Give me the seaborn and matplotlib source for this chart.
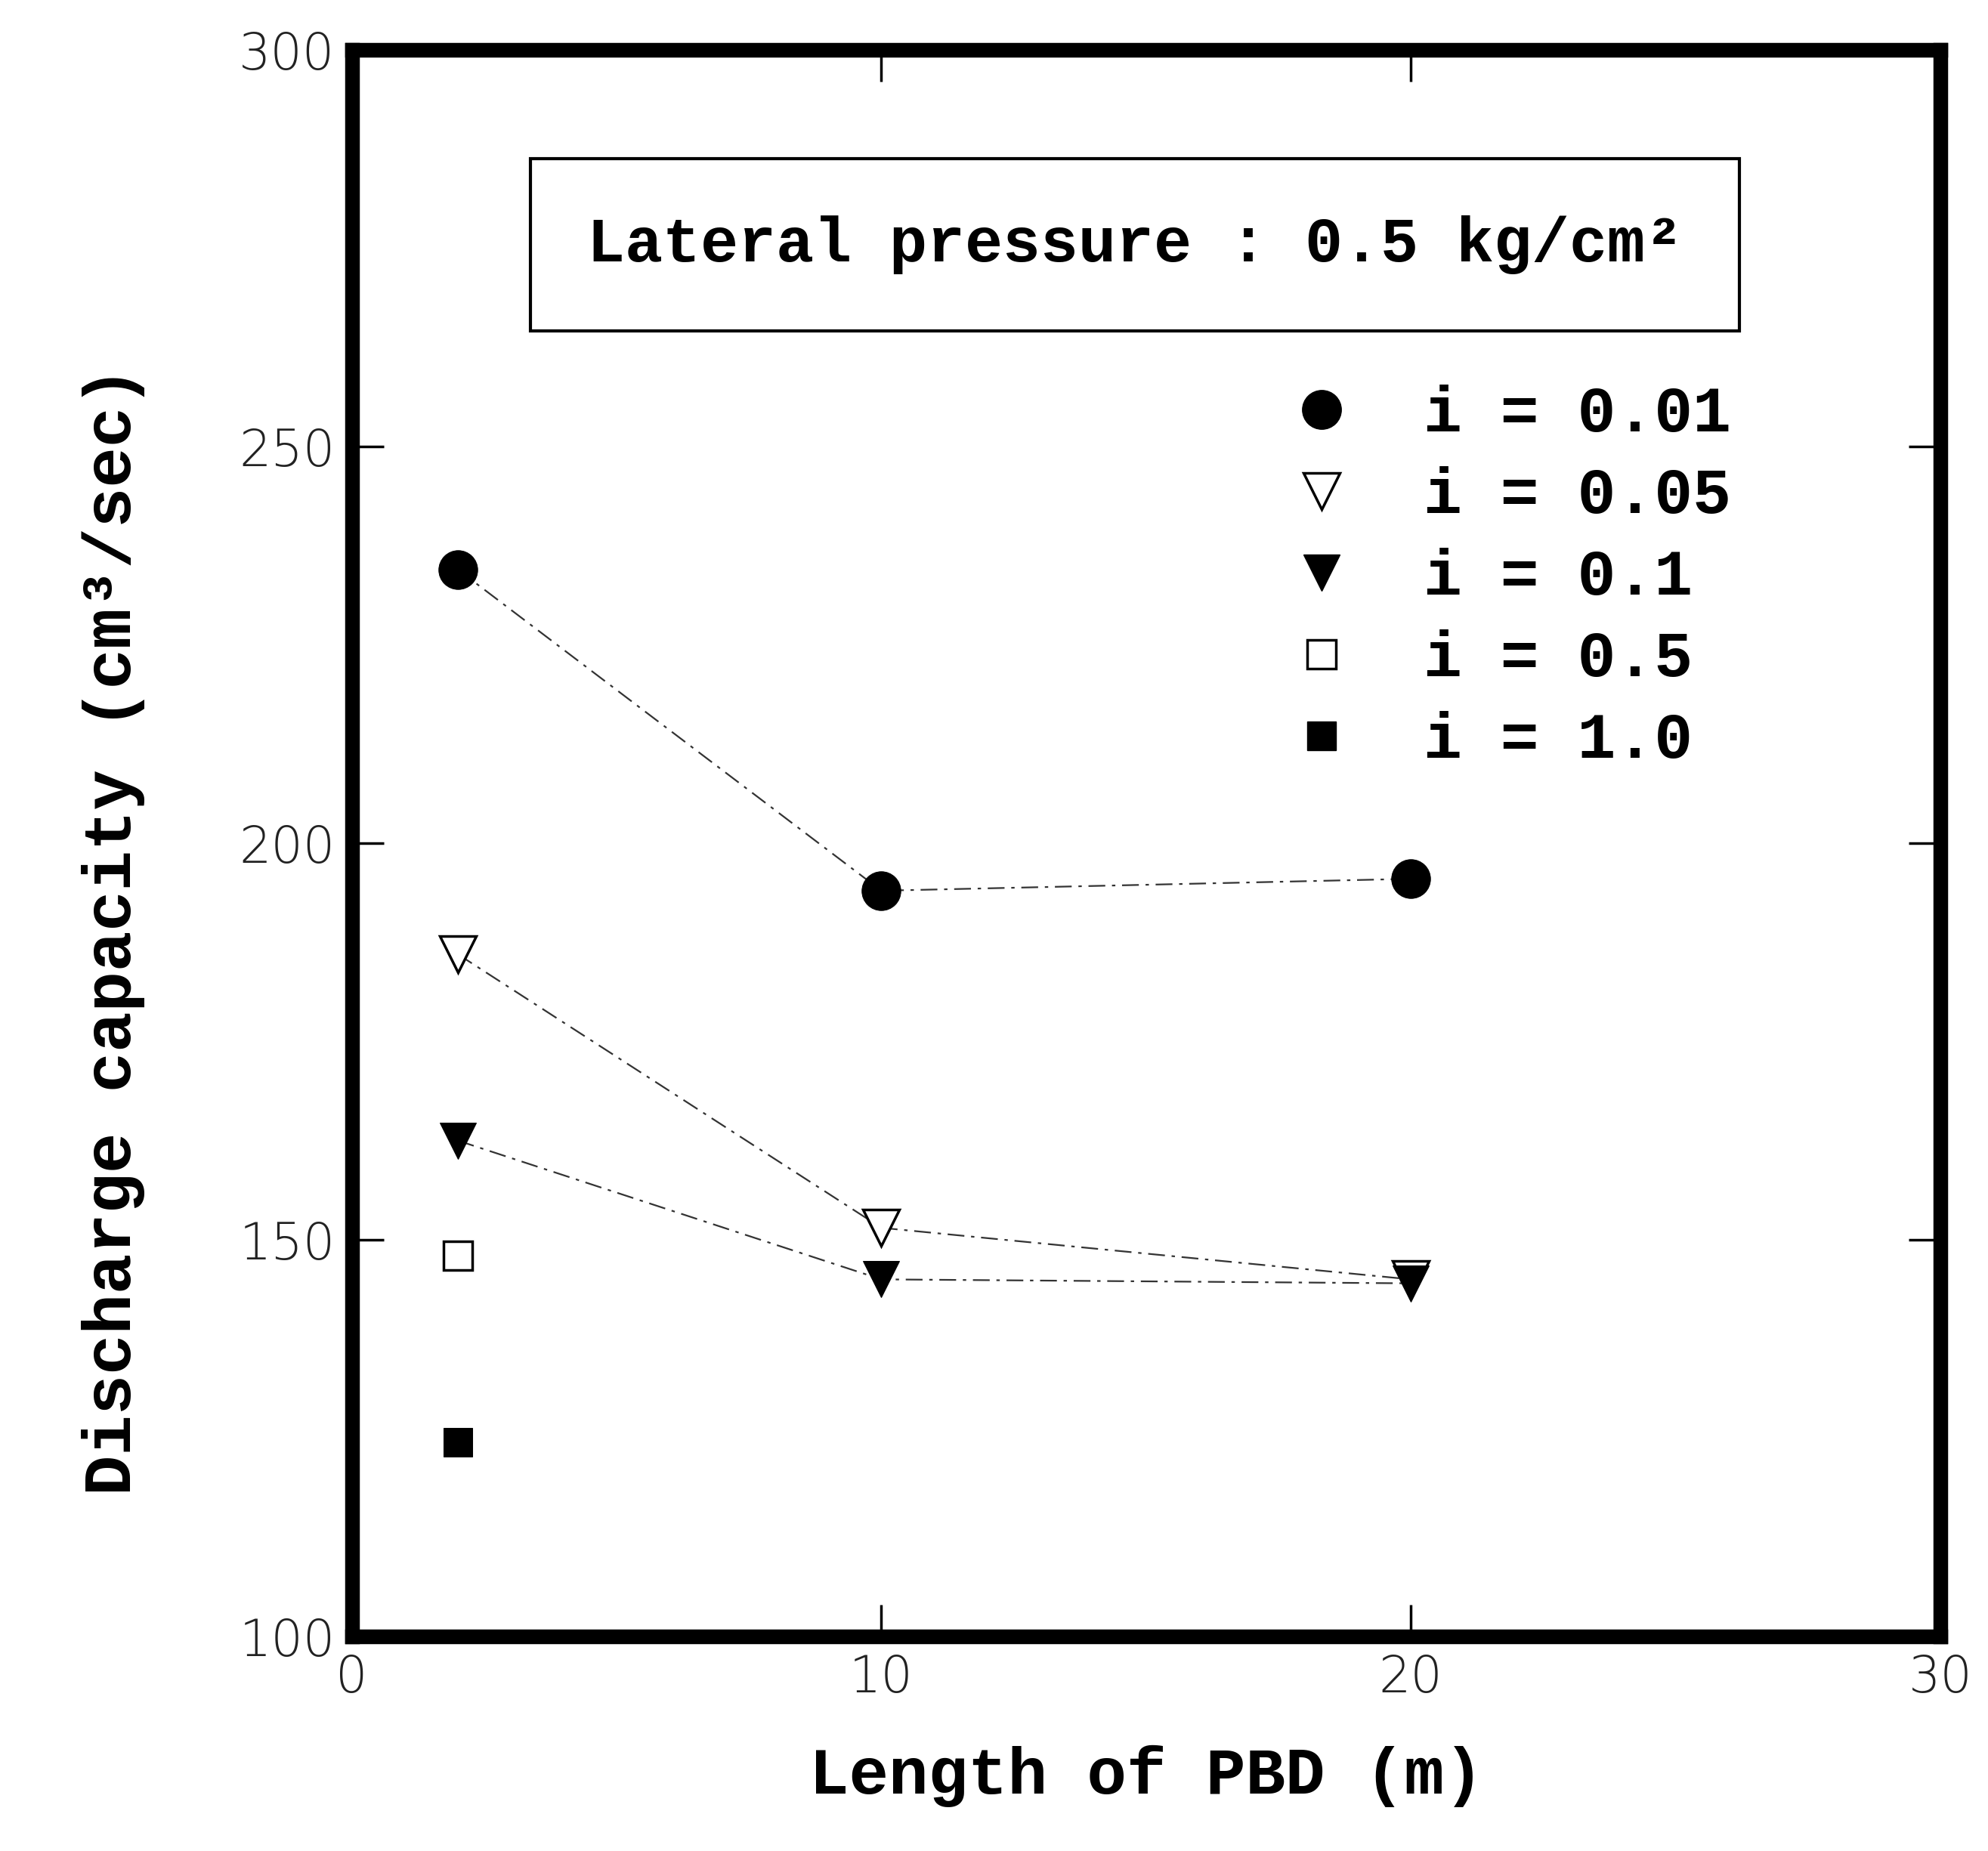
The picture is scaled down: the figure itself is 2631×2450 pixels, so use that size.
import matplotlib
matplotlib.use("Agg")
import matplotlib.pyplot as plt
from matplotlib.lines import Line2D
import seaborn as sns
import pandas as pd

# ---- data ----
length_001 = [2, 10, 20]
q_001 = [234.5, 194.0, 195.5]
length_005 = [2, 10, 20]
q_005 = [186.0, 151.5, 145.0]
length_01 = [2, 10, 20]
q_01 = [162.5, 145.0, 144.5]
length_05 = [2]
q_05 = [148.0]
length_10 = [2]
q_10 = [124.5]

labels = ["i = 0.01", "i = 0.05", "i = 0.1", "i = 0.5", "i = 1.0"]
x_ticks = [0, 10, 20, 30]
y_ticks = [100, 150, 200, 250, 300]
box_text = "Lateral pressure : 0.5 kg/cm\u00b2"
x_label = "Length of PBD (m)"
y_label = "Discharge capacity (cm\u00b3/sec)"

sns.set_theme(style="white")
plt.rcParams["font.family"] = ["Liberation Mono", "DejaVu Sans"]

fig = plt.figure(figsize=(26.31, 24.5), dpi=100)
ax = fig.add_axes([0.177, 0.116, 0.799, 0.857])

series = [
    (length_001, q_001, dict(marker="o", markerfacecolor="black", markersize=37)),
    (length_005, q_005, dict(marker="v", markerfacecolor="white", markersize=34, markeredgewidth=2.5)),
    (length_01, q_01, dict(marker="v", markerfacecolor="black", markersize=34)),
    (length_05, q_05, dict(marker="s", markerfacecolor="white", markersize=27, markeredgewidth=2.5)),
    (length_10, q_10, dict(marker="s", markerfacecolor="black", markersize=27)),
]

dash = (0, (10, 4, 2, 4))
for xs, ys, mk in series:
    df = pd.DataFrame({"x": xs, "y": ys})
    sns.lineplot(data=df, x="x", y="y", ax=ax, color="#333333", linewidth=1.6,
                 linestyle=dash, markeredgecolor="black", **mk)

ax.set_xlim(0, 30)
ax.set_ylim(100, 300)
ax.set_xticks(x_ticks)
ax.set_yticks(y_ticks)
ax.set_xticklabels([str(t) for t in x_ticks])
ax.set_yticklabels([str(t) for t in y_ticks])

ax.tick_params(direction="in", length=30, width=2.5, top=True, right=True,
               bottom=True, left=True, pad=16, colors="black")
for lab in ax.get_xticklabels() + ax.get_yticklabels():
    lab.set_fontfamily(["DejaVu Sans"])
    lab.set_fontweight("light")
    lab.set_fontsize(48)
    lab.set_color("#222222")

for sp in ax.spines.values():
    sp.set_linewidth(14)
    sp.set_color("black")

ax.set_xlabel(x_label, fontsize=63, fontweight="bold", labelpad=40, color="black")
ax.set_ylabel(y_label, fontsize=64, fontweight="bold", labelpad=60, color="black")
ax.yaxis.set_label_coords(-0.130, 0.445)

ax.text(0.493, 0.877, box_text, transform=ax.transAxes, fontsize=60,
        fontweight="bold", ha="center", va="center", color="black",
        bbox=dict(boxstyle="square,pad=0.9", facecolor="white",
                  edgecolor="black", linewidth=3))

handles = []
for xs, ys, mk in series:
    handles.append(Line2D([], [], linestyle="none", markeredgecolor="black", **mk))
leg = ax.legend(handles, labels, loc="upper left", bbox_to_anchor=(0.57, 0.805),
                frameon=False, prop=dict(family="Liberation Mono", weight="bold", size=61),
                labelspacing=0.33, handletextpad=1.0, handlelength=1.2, borderaxespad=0,
                labelcolor="black")

fig.savefig("out.png", dpi=100, facecolor="white")
